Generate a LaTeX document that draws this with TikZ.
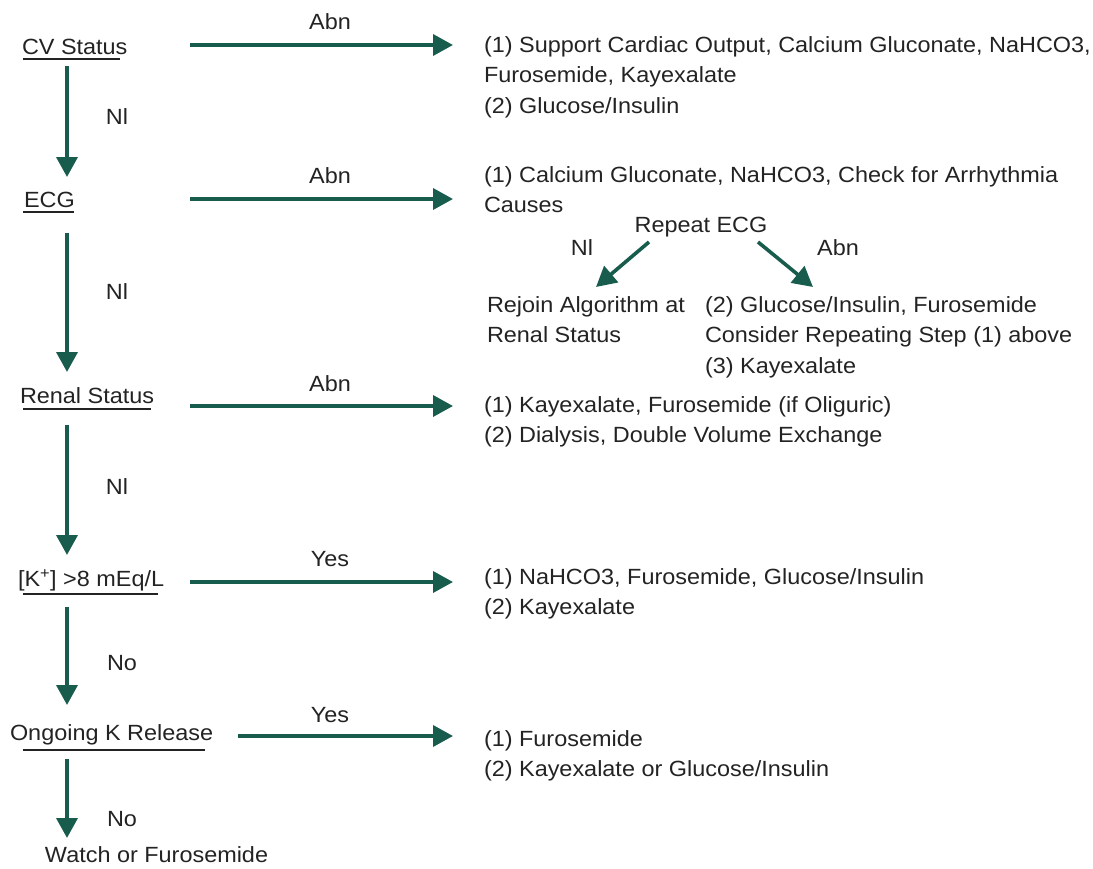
\documentclass[tikz,border=0pt]{standalone}
\usepackage{fontspec}
\setmainfont{Liberation Sans}[FakeStretch=1.065]
\usetikzlibrary{arrows.meta,calc}
\definecolor{teal}{RGB}{24,92,78}
\definecolor{ink}{RGB}{35,35,35}
\begin{document}
\begin{tikzpicture}[x=1pt,y=-1pt,
  every node/.style={inner sep=0pt,outer sep=0pt,text=ink,font=\fontsize{22}{30.5}\selectfont},
  lbox/.style={anchor=base west},
  rbox/.style={anchor=north west,align=left},
  lab/.style={anchor=center},
  arr/.style={draw=teal,line width=3.6pt,-{Triangle[length=20pt,width=21pt]}},
  uline/.style={draw=ink,line width=2.2pt}]
\useasboundingbox (0,0) rectangle (1093,868);
% left column
\node[lbox] (cv) at (22,54) {CV Status};
\node[lbox] (ecg) at (24,207) {ECG};
\node[lbox] (ren) at (20,403) {Renal Status};
\node[lbox] (kk) at (18,586) {[K\textsuperscript{+}] >8 mEq/L};
\node[lbox] (ong) at (10,740) {Ongoing K Release};
\node[lbox] (wat) at (45,862) {Watch or Furosemide};
% underlines
\draw[uline] ($(cv.base west)+(1,5)$) -- ($(cv.base east)+(-7,5)$);
\draw[uline] ($(ecg.base west)+(-1,5)$) -- ($(ecg.base east)+(-1,5)$);
\draw[uline] ($(ren.base west)+(3,6)$) -- ($(ren.base east)+(-3,6)$);
\draw[uline] ($(kk.base west)+(5,8)$) -- ($(kk.base east)+(-6,8)$);
\draw[uline] ($(ong.base west)+(13,10)$) -- ($(ong.base east)+(-8,10)$);
% right column
\node[rbox] (r1) at (484,31) {\strut(1) Support Cardiac Output, Calcium Gluconate, NaHCO3,\\Furosemide, Kayexalate\\(2) Glucose/Insulin};
\node[rbox] (r2) at (484,161) {\strut(1) Calcium Gluconate, NaHCO3, Check for Arrhythmia\\Causes};
\node[anchor=base] (rep) at (701,232) {Repeat ECG};
\node[lab] (rnl) at (582,248) {Nl};
\node[lab] (rab) at (838,248) {Abn};
\node[rbox] (rj) at (487,291) {\strut Rejoin Algorithm at\\Renal Status};
\node[rbox] (r3) at (705,291) {\strut(2) Glucose/Insulin, Furosemide\\Consider Repeating Step (1) above\\(3) Kayexalate};
\node[rbox] (r4) at (484,391) {\strut(1) Kayexalate, Furosemide (if Oliguric)\\(2) Dialysis, Double Volume Exchange};
\node[rbox] (r5) at (484,563) {\strut(1) NaHCO3, Furosemide, Glucose/Insulin\\(2) Kayexalate};
\node[rbox] (r6) at (484,725) {\strut(1) Furosemide\\(2) Kayexalate or Glucose/Insulin};
% horizontal arrow labels
\node[lab] (l1) at (330,22) {Abn};
\node[lab] (l2) at (330,176) {Abn};
\node[lab] (l3) at (330,384) {Abn};
\node[lab] (l4) at (330,559) {Yes};
\node[lab] (l5) at (330,715) {Yes};
% vertical arrow labels
\node[lab] (v1) at (117,117) {Nl};
\node[lab] (v2) at (117,292) {Nl};
\node[lab] (v3) at (117,487) {Nl};
\node[lab] (v4) at (122,663) {No};
\node[lab] (v5) at (122,819) {No};
% arrow end points
\coordinate (h1a) at (190,45);  \coordinate (h1b) at (453,45);
\coordinate (h2a) at (190,199); \coordinate (h2b) at (453,199);
\coordinate (h3a) at (190,406); \coordinate (h3b) at (453,406);
\coordinate (h4a) at (190,582); \coordinate (h4b) at (453,582);
\coordinate (h5a) at (238,736); \coordinate (h5b) at (453,736);
\coordinate (d1a) at (649,242); \coordinate (d1b) at (596,287);
\coordinate (d2a) at (758,242); \coordinate (d2b) at (813,287);
% arrows
\draw[arr] (h1a) -- (h1b);
\draw[arr] (h2a) -- (h2b);
\draw[arr] (h3a) -- (h3b);
\draw[arr] (h4a) -- (h4b);
\draw[arr] (h5a) -- (h5b);
\draw[arr] (67,66) -- (67,177);
\draw[arr] (67,233) -- (67,372);
\draw[arr] (67,425) -- (67,555);
\draw[arr] (67,607) -- (67,705);
\draw[arr] (67,759) -- (67,838);
\draw[arr] (d1a) -- (d1b);
\draw[arr] (d2a) -- (d2b);
\end{tikzpicture}
\end{document}
